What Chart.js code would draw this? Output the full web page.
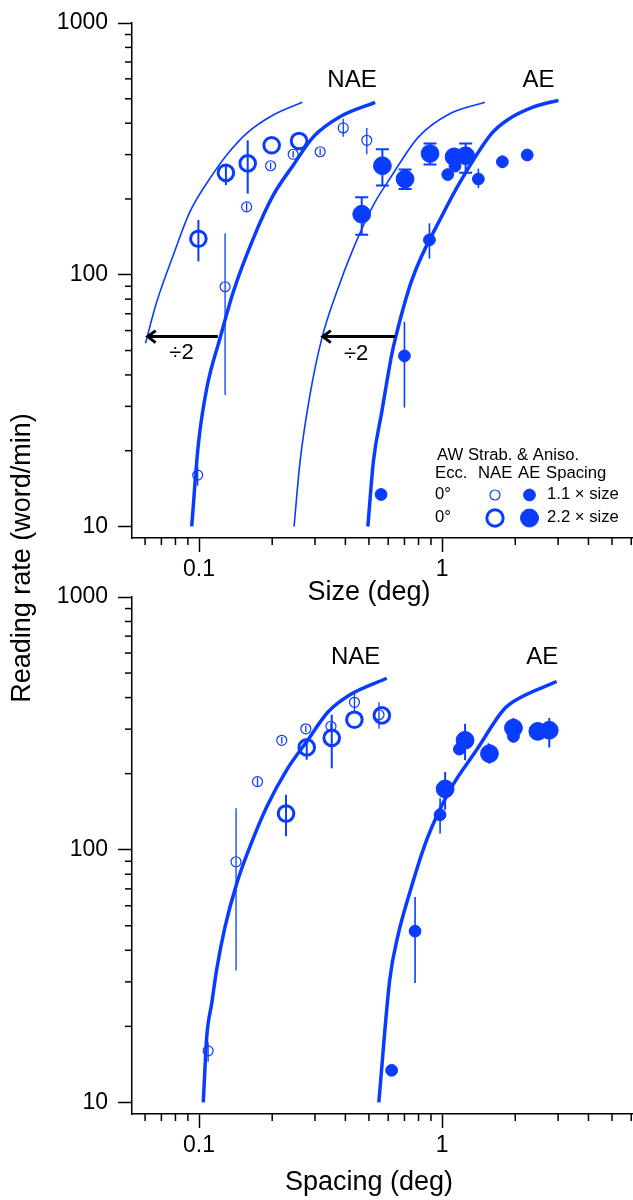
<!DOCTYPE html>
<html>
<head>
<meta charset="utf-8">
<script src="https://cdn.jsdelivr.net/npm/chart.js@4.4.1/dist/chart.umd.min.js"></script>
<style>
  body { margin: 0; background: #fff; }
  #wrap { position: relative; width: 633px; height: 1200px; }
  #wrap canvas { position: absolute; left: 0; top: 0; }
</style>
</head>
<body>
<div id="wrap">
  <canvas id="sizeChart" width="633" height="1200"></canvas>
  <canvas id="spacingChart" width="633" height="1200"></canvas>
</div>
<script>
const blue = '#0a3cff';
const family = '"Liberation Sans", Arial, Helvetica, sans-serif';

// axis ticks
const rateTicks = [10, 20, 30, 40, 50, 60, 70, 80, 90, 100, 200, 300, 400, 500, 600, 700, 800, 900, 1000];
const rateLabels = [10, 100, 1000];
const degTicks = [0.06, 0.07, 0.08, 0.09, 0.1, 0.2, 0.3, 0.4, 0.5, 0.6, 0.7, 0.8, 0.9, 1, 2, 3, 4, 5, 6];
const degLabels = [0.1, 1];

// NAE, spacing 1.1 x size (small open circles)
const naeSmallSize    = [0.0987, 0.128, 0.157, 0.197, 0.244, 0.315, 0.392, 0.49];
const naeSmallSpacing = [0.109, 0.142, 0.174, 0.219, 0.275, 0.349, 0.436, 0.55];
const naeSmallRate    = [16.0, 89.6, 186, 271, 301, 308, 383, 342];
const naeSmallLo      = [14.5, 33.3, 179, 263, 292, 299, 353, 301];
const naeSmallHi      = [17.3, 146, 193, 279, 310, 317, 417, 383];

// NAE, spacing 2.2 x size (large open circles)
const naeLargeSize    = [0.0994, 0.129, 0.1586, 0.199, 0.258];
const naeLargeSpacing = [0.228, 0.2774, 0.3516, 0.4357, 0.565];
const naeLargeRate    = [139, 254, 277, 327, 340];
const naeLargeLo      = [113, 227, 210, null, null];
const naeLargeHi      = [165, 273, 342, null, null];

// AE, spacing 1.1 x size (small filled circles)
const aeSmallSize    = [0.561, 0.70, 0.887, 1.055, 1.13, 1.41, 1.77, 2.24];
const aeSmallSpacing = [0.62, 0.774, 0.981, 1.178, 1.24, 1.55, 1.966, 2.46];
const aeSmallRate    = [13.4, 47.6, 137.5, 250, 270, 240, 281, 299];
const aeSmallLo      = [null, 29.7, 116, null, null, 221, 265, null];
const aeSmallHi      = [null, 65, 160, null, null, 264, 298, null];

// AE, spacing 2.2 x size (large filled circles)
const aeLargeSize    = [0.467, 0.568, 0.704, 0.892, 1.12, 1.25];
const aeLargeSpacing = [1.029, 1.243, 1.566, 1.966, 2.476, 2.76];
const aeLargeRate    = [174, 271, 240, 303, 294, 297];
const aeLargeLo      = [144, 226, 219, 274, null, 254];
const aeLargeHi      = [203, 315, 262, 332, null, 332];

// fitted curves, size panel
const sizeNaeFitX  = [0.0933, 0.0993, 0.1076, 0.122, 0.1384, 0.1673, 0.202, 0.2445, 0.2954, 0.380, 0.53];
const sizeNaeFitY  = [10, 21.1, 35.4, 55.9, 85.6, 139.5, 207, 273, 353, 424, 484];
const sizeNaeHalfX = [0.0602, 0.067, 0.0784, 0.0918, 0.111, 0.130, 0.157, 0.202, 0.266];
const sizeNaeHalfY = [53.4, 78.1, 119.8, 178, 241.6, 299, 364.6, 431, 484];
const sizeAeFitX   = [0.495, 0.5215, 0.565, 0.62, 0.645, 0.75, 1.01, 1.2, 1.60, 1.85, 2.38, 3.01];
const sizeAeFitY   = [10, 18.1, 28.6, 48, 56.8, 95, 175, 238, 364, 411, 464, 493];
const sizeAeHalfX  = [0.246, 0.2604, 0.286, 0.32, 0.3687, 0.4315, 0.5215, 0.611, 0.80, 1.08, 1.50];
const sizeAeHalfY  = [10, 18.1, 33.3, 55.9, 85.6, 127.3, 189, 241.6, 353, 437, 484];

// fitted curves, spacing panel
const spacingNaeFitX = [0.1041, 0.1076, 0.1128, 0.1182, 0.128, 0.143, 0.162, 0.19, 0.2296, 0.2774, 0.34, 0.418, 0.592];
const spacingNaeFitY = [10, 18.2, 24.7, 33.6, 49.6, 73.6, 102.8, 148, 207, 268, 351.5, 410.6, 477];
const spacingAeFitX  = [0.549, 0.609, 0.657, 0.728, 0.865, 1.079, 1.39, 1.79, 2.03, 2.96];
const spacingAeFitY  = [10, 30.6, 45.4, 65.3, 109.6, 172.8, 249, 358, 393, 463];

Chart.defaults.font.family = family;

const pts = (xs, ys) => xs.map((x, i) => ({ x, y: ys[i] }));

function circles(xs, ys, lo, hi, style) {
  return Object.assign({
    type: 'scatter', data: pts(xs, ys), errLo: lo, errHi: hi,
    pointStyle: 'circle', borderColor: blue
  }, style);
}

function curve(xs, ys, width) {
  return {
    type: 'line', data: pts(xs, ys), borderColor: blue, borderWidth: width,
    pointRadius: 0, fill: false, cubicInterpolationMode: 'monotone'
  };
}

const openSmall = { pointRadius: 5, borderWidth: 1.2, backgroundColor: 'rgba(0,0,0,0)', errWidth: 1.3 };
const openLarge = { pointRadius: 7.8, borderWidth: 3, backgroundColor: 'rgba(0,0,0,0)', errWidth: 2 };
const fillSmall = { pointRadius: 5.9, borderWidth: 1, backgroundColor: blue, errWidth: 1.6 };
const fillLarge = { pointRadius: 8.9, borderWidth: 1, backgroundColor: blue, errWidth: 2 };

const decor = {
  id: 'decor',
  afterDatasetsDraw(chart) {
    const { ctx, scales: { x, y } } = chart;
    ctx.save();
    ctx.strokeStyle = blue;
    chart.data.datasets.forEach(ds => {
      if (!ds.errLo) return;
      ctx.lineWidth = ds.errWidth;
      ds.data.forEach((p, i) => {
        if (ds.errLo[i] == null) return;
        const px = x.getPixelForValue(p.x);
        const y1 = y.getPixelForValue(ds.errLo[i]);
        const y2 = y.getPixelForValue(ds.errHi[i]);
        ctx.beginPath();
        ctx.moveTo(px, y1); ctx.lineTo(px, y2);
        if (ds.errCap) {
          ctx.moveTo(px - ds.errCap, y1); ctx.lineTo(px + ds.errCap, y1);
          ctx.moveTo(px - ds.errCap, y2); ctx.lineTo(px + ds.errCap, y2);
        }
        ctx.stroke();
      });
    });
    ctx.restore();
  },
  afterDraw(chart, args, o) {
    const { ctx, scales: { x, y } } = chart;
    ctx.save();
    // short minor ticks
    ctx.strokeStyle = '#000';
    ctx.lineWidth = 1.5;
    degTicks.filter(v => !degLabels.includes(v)).forEach(v => {
      const px = x.getPixelForValue(v);
      ctx.beginPath(); ctx.moveTo(px, x.top); ctx.lineTo(px, x.top + 7); ctx.stroke();
    });
    rateTicks.filter(v => !rateLabels.includes(v)).forEach(v => {
      const py = y.getPixelForValue(v);
      ctx.beginPath(); ctx.moveTo(y.right, py); ctx.lineTo(y.right - 7, py); ctx.stroke();
    });
    // arrows
    (o.arrows || []).forEach(a => {
      const x1 = x.getPixelForValue(a.from), x2 = x.getPixelForValue(a.to), py = y.getPixelForValue(a.at);
      ctx.lineWidth = 3;
      ctx.beginPath(); ctx.moveTo(x1, py); ctx.lineTo(x2 + 1, py); ctx.stroke();
      ctx.beginPath(); ctx.moveTo(x2 + 9, py - 6); ctx.lineTo(x2 + 1, py); ctx.lineTo(x2 + 9, py + 6); ctx.stroke();
    });
    // text
    ctx.fillStyle = '#000';
    ctx.textBaseline = 'middle';
    (o.labels || []).forEach(l => {
      ctx.font = `${l.size}px ${family}`;
      ctx.textAlign = l.align || 'center';
      const px = l.px != null ? l.px : x.getPixelForValue(l.x);
      const py = l.py != null ? l.py : y.getPixelForValue(l.y);
      ctx.fillText(l.text, px, py);
    });
    if (o.yTitle) {
      ctx.translate(22.5, 558);
      ctx.rotate(-Math.PI / 2);
      ctx.font = `27px ${family}`;
      ctx.textAlign = 'center';
      ctx.fillText(o.yTitle, 0, 0);
      ctx.setTransform(1, 0, 0, 1, 0, 0);
    }
    if (o.legend) {
      const mark = (cx, cy, r, lw, filled) => {
        ctx.beginPath(); ctx.arc(cx, cy, r, 0, Math.PI * 2);
        ctx.lineWidth = lw; ctx.strokeStyle = blue; ctx.fillStyle = blue;
        if (filled) ctx.fill();
        ctx.stroke();
      };
      mark(495, 495, 5, 1.2, false);
      mark(529.5, 495, 5.9, 1, true);
      mark(495, 518, 8.2, 3, false);
      mark(529.5, 518, 9, 1, true);
    }
    ctx.restore();
  }
};

function makeChart(id, cfg) {
  return new Chart(document.getElementById(id), {
    type: 'scatter',
    data: { datasets: cfg.datasets },
    options: {
      responsive: false,
      animation: false,
      events: [],
      layout: { autoPadding: false, padding: { left: 0, right: 0, top: cfg.top, bottom: cfg.bottom } },
      plugins: { legend: { display: false }, tooltip: { enabled: false }, decor: cfg.decor },
      scales: {
        x: {
          type: 'logarithmic', min: 0.053, max: 6.1, bounds: 'data',
          afterBuildTicks: s => { s.ticks = degTicks.map(v => ({ value: v })); },
          afterFit: s => { s.height = 60; s.paddingLeft = 0; s.paddingRight = 0; },
          ticks: {
            autoSkip: false, maxRotation: 0, padding: 4, color: '#000', font: { size: 23 },
            callback: v => degLabels.includes(v) ? String(v) : ''
          },
          grid: {
            drawOnChartArea: false, tickLength: 14, tickWidth: 1.5,
            tickColor: c => degLabels.includes(c.tick && c.tick.value) ? '#000' : 'rgba(0,0,0,0)'
          },
          border: { color: '#000', width: 1.5 }
        },
        y: {
          type: 'logarithmic', min: 9, max: 1000, bounds: 'data',
          afterBuildTicks: s => { s.ticks = rateTicks.map(v => ({ value: v })); },
          afterFit: s => { s.width = 132; s.paddingTop = 0; s.paddingBottom = 0; },
          ticks: {
            autoSkip: false, padding: 10, color: '#000', font: { size: 23 },
            callback: v => rateLabels.includes(v) ? String(v) : ''
          },
          grid: {
            drawOnChartArea: false, tickLength: 14, tickWidth: 1.5,
            tickColor: c => rateLabels.includes(c.tick && c.tick.value) ? '#000' : 'rgba(0,0,0,0)'
          },
          border: { color: '#000', width: 1.5 }
        }
      }
    },
    plugins: [decor]
  });
}

// Size panel
makeChart('sizeChart', {
  top: 23, bottom: 602,
  datasets: [
    circles(naeSmallSize, naeSmallRate, naeSmallLo, naeSmallHi, openSmall),
    circles(naeLargeSize, naeLargeRate, naeLargeLo, naeLargeHi, openLarge),
    circles(aeSmallSize, aeSmallRate, aeSmallLo, aeSmallHi, fillSmall),
    circles(aeLargeSize, aeLargeRate, aeLargeLo, aeLargeHi, Object.assign({ errCap: 6.5 }, fillLarge)),
    curve(sizeNaeFitX, sizeNaeFitY, 3.5),
    curve(sizeNaeHalfX, sizeNaeHalfY, 1.6),
    curve(sizeAeFitX, sizeAeFitY, 3.5),
    curve(sizeAeHalfX, sizeAeHalfY, 1.6)
  ],
  decor: {
    legend: true,
    arrows: [
      { from: 0.1195, to: 0.0609, at: 56.8 },
      { from: 0.641, to: 0.32, at: 56.8 }
    ],
    labels: [
      { text: 'NAE', x: 0.426, y: 591, size: 24 },
      { text: 'AE', x: 2.495, y: 591, size: 24 },
      { text: '÷2', x: 0.0847, y: 49.1, size: 22 },
      { text: '÷2', x: 0.443, y: 48.4, size: 22 },
      { text: 'Size (deg)', px: 369, py: 593, size: 27 },
      { text: 'AW Strab. & Aniso.', px: 437, py: 455.5, size: 16.7, align: 'left' },
      { text: 'Ecc.', px: 435, py: 473, size: 16.7, align: 'left' },
      { text: 'NAE', px: 478, py: 473, size: 16.7, align: 'left' },
      { text: 'AE', px: 518, py: 473, size: 16.7, align: 'left' },
      { text: 'Spacing', px: 546, py: 473, size: 16.7, align: 'left' },
      { text: '0°', px: 435, py: 494.5, size: 16.7, align: 'left' },
      { text: '0°', px: 435, py: 517.5, size: 16.7, align: 'left' },
      { text: '1.1 × size', px: 547, py: 494.5, size: 16.7, align: 'left' },
      { text: '2.2 × size', px: 547, py: 517.5, size: 16.7, align: 'left' }
    ]
  }
});

// Spacing panel
makeChart('spacingChart', {
  top: 597, bottom: 26,
  datasets: [
    circles(naeSmallSpacing, naeSmallRate, naeSmallLo, naeSmallHi, openSmall),
    circles(naeLargeSpacing, naeLargeRate, naeLargeLo, naeLargeHi, openLarge),
    circles(aeSmallSpacing, aeSmallRate, aeSmallLo, aeSmallHi, fillSmall),
    circles(aeLargeSpacing, aeLargeRate, aeLargeLo, aeLargeHi, fillLarge),
    curve(spacingNaeFitX, spacingNaeFitY, 3.5),
    curve(spacingAeFitX, spacingAeFitY, 3.5)
  ],
  decor: {
    yTitle: 'Reading rate (word/min)',
    labels: [
      { text: 'NAE', x: 0.4406, y: 579, size: 24 },
      { text: 'AE', x: 2.58, y: 579, size: 24 },
      { text: 'Spacing (deg)', px: 369, py: 1182.5, size: 27 }
    ]
  }
});
</script>
</body>
</html>
